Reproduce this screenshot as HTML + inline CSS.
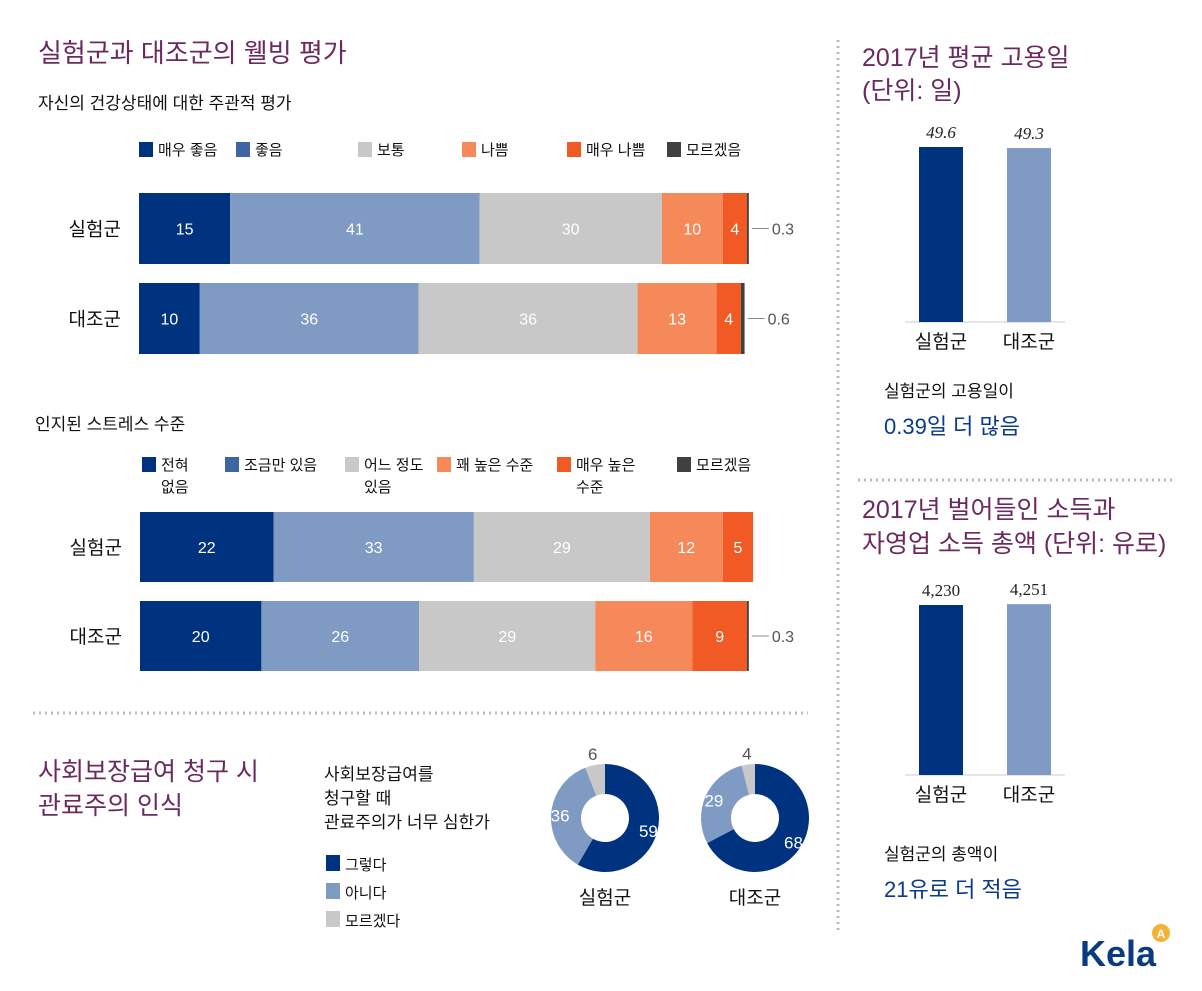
<!DOCTYPE html>
<html><head><meta charset="utf-8">
<style>
html,body{margin:0;padding:0;background:#fff;}
svg{display:block;font-family:"Liberation Sans","Noto Sans CJK KR",sans-serif;}
</style></head>
<body>
<svg id="c" width="1202" height="991" viewBox="0 0 1202 991" xmlns="http://www.w3.org/2000/svg">
<text x="38" y="62" font-size="26" fill="#6b2a5e">실험군과 대조군의 웰빙 평가</text>
<text x="38" y="109" font-size="17" fill="#111">자신의 건강상태에 대한 주관적 평가</text>
<text x="35" y="430" font-size="17" fill="#111">인지된 스트레스 수준</text>
<g id="g1"></g>
<g id="g2"></g>
<line x1="33" y1="713" x2="808" y2="713" stroke="#bbb" stroke-width="3" stroke-dasharray="2 4"/>
<line x1="838" y1="40" x2="838" y2="930" stroke="#bbb" stroke-width="3" stroke-dasharray="2 4"/>
<line x1="858" y1="480" x2="1176" y2="480" stroke="#bbb" stroke-width="3" stroke-dasharray="2 4"/>
<text x="38" y="780" font-size="25" fill="#6b2a5e">사회보장급여 청구 시</text>
<text x="38" y="814" font-size="25" fill="#6b2a5e">관료주의 인식</text>
<text x="324" y="780" font-size="17" fill="#111"><tspan x="324">사회보장급여를</tspan><tspan x="324" dy="24">청구할 때</tspan><tspan x="324" dy="24">관료주의가 너무 심한가</tspan></text>
<g id="dl"></g>
<g id="g3"></g>
<text x="862" y="66" font-size="25" fill="#6b2a5e">2017년 평균 고용일</text>
<text x="862" y="99" font-size="25" fill="#6b2a5e">(단위: 일)</text>
<g id="g4"></g>
<text x="884" y="397" font-size="17" fill="#111">실험군의 고용일이</text>
<text x="884" y="434" font-size="22" fill="#0a3a8c">0.39일 더 많음</text>
<text x="862" y="518" font-size="25" fill="#6b2a5e">2017년 벌어들인 소득과</text>
<text x="862" y="552" font-size="25" fill="#6b2a5e">자영업 소득 총액 (단위: 유로)</text>
<g id="g5"></g>
<text x="884" y="860" font-size="17" fill="#111">실험군의 총액이</text>
<text x="884" y="897" font-size="22" fill="#0a3a8c">21유로 더 적음</text>
<text x="1080" y="966" font-size="36" font-weight="bold" fill="#0a3a80">Kela</text>
<circle cx="1161" cy="933" r="9" fill="#f5b335"/>
<text x="1161" y="938" font-size="12" font-weight="bold" fill="#fff" text-anchor="middle">A</text>
</svg>
<script>
const NS="http://www.w3.org/2000/svg";
const groups=["실험군","대조군"];
const colors=["#00337f","#7f9bc3","#c8c8c8","#f5895a","#f15a24","#404040"];
const healthCats=["매우 좋음","좋음","보통","나쁨","매우 나쁨","모르겠음"];
const healthExp=[15,41,30,10,4,0.3];
const healthCtl=[10,36,36,13,4,0.6];
const stressCats=["전혀|없음","조금만 있음","어느 정도|있음","꽤 높은 수준","매우 높은|수준","모르겠음"];
const stressExp=[22,33,29,12,5,0];
const stressCtl=[20,26,29,16,9,0.3];
const donutCats=["그렇다","아니다","모르겠다"];
const donutExp=[59,36,6];
const donutCtl=[68,29,4];
const daysVals=[49.6,49.3];
const daysLabels=["49.6","49.3"];
const incomeVals=[4230,4251];
const incomeLabels=["4,230","4,251"];

function mk(tag,attrs,parent,text){const e=document.createElementNS(NS,tag);for(const k in attrs)e.setAttribute(k,attrs[k]);if(text!==undefined)e.textContent=text;parent.appendChild(e);return e;}

function stacked(gid,cats,rows,x0,unit,rowY,rowH,legendXs,legendY,legendSquareColors){
  const g=document.getElementById(gid);
  cats.forEach((c,i)=>{
    const r=mk("rect",{x:legendXs[i],y:legendY-13,width:14,height:15,fill:legendSquareColors[i]},g);
    
    
    const parts=c.split("|");
    parts.forEach((p,j)=>{
      const t=mk("text",{x:legendXs[i]+19,y:legendY+j*22,"font-size":15,fill:"#111"},g,p);
      
      
    });
  });
  rows.forEach((vals,ri)=>{
    const y=rowY[ri];
    const lab=mk("text",{x:x0-18,y:y+rowH/2+7,"font-size":19,fill:"#111","text-anchor":"end"},g,groups[ri]);
    
    
    let x=x0;
    vals.forEach((v,i)=>{
      const w=v*unit;
      if(v>0){
        const r=mk("rect",{x:x,y:y,width:w,height:rowH,fill:colors[i]},g);
        
        
        if(v>=1){
          const t=mk("text",{x:x+w/2,y:y+rowH/2+6,"font-size":16,fill:"#fff","text-anchor":"middle"},g,String(v));
          
          
        } else {
          const l=mk("line",{x1:x+w+3,y1:y+rowH/2,x2:x+w+20,y2:y+rowH/2,stroke:"#888","stroke-width":1},g);
          
          
          const t=mk("text",{x:x+w+23,y:y+rowH/2+6,"font-size":16,fill:"#555"},g,String(v));
          
          
        }
      }
      x+=w;
    });
  });
}
stacked("g1",healthCats,[healthExp,healthCtl],139,6.08,[193,283],71,[139,236,358,462,567,667],155,["#00337f","#3f66a3","#c8c8c8","#f5895a","#f15a24","#404040"]);
stacked("g2",stressCats,[stressExp,stressCtl],140,6.07,[512,601],70,[142,225,345,437,557,677],470,["#00337f","#3f66a3","#c8c8c8","#f5895a","#f15a24","#404040"]);

// donut legend
const dl=document.getElementById("dl");
donutCats.forEach((c,i)=>{
  const r=mk("rect",{x:326,y:855+i*28,width:14,height:16,fill:colors[i]},dl);
  
  
  const t=mk("text",{x:345,y:870+i*28,"font-size":15,fill:"#111"},dl,c);
  
  
});

function donut(vals,cx,cy,label){
  const g=document.getElementById("g3");
  const R=54,r=24,tot=vals.reduce((a,b)=>a+b,0);
  let a0=0;
  vals.forEach((v,i)=>{
    const a1=a0+v/tot*2*Math.PI;
    const p=(a,rad)=>[cx+rad*Math.sin(a),cy-rad*Math.cos(a)];
    const [x1,y1]=p(a0,R),[x2,y2]=p(a1,R),[x3,y3]=p(a1,r),[x4,y4]=p(a0,r);
    const lg=(a1-a0)>Math.PI?1:0;
    const path=mk("path",{d:`M${x1},${y1}A${R},${R} 0 ${lg} 1 ${x2},${y2}L${x3},${y3}A${r},${r} 0 ${lg} 0 ${x4},${y4}Z`,fill:colors[i]},g);
    
    
    const am=(a0+a1)/2;
    let tr=(R+r)/2+6, col="#fff";
    if(v<10){tr=R+12;col="#555";}
    const [tx,ty]=p(am,tr);
    const t=mk("text",{x:tx,y:ty+7,"font-size":17,fill:col,"text-anchor":"middle"},g,String(v));
    
    
    a0=a1;
  });
  const t=mk("text",{x:cx,y:cy+86,"font-size":19,fill:"#111","text-anchor":"middle"},g,label);
  
  
}
donut(donutExp,605,818,groups[0]);
donut(donutCtl,755,818,groups[1]);

function vbars(gid,vals,labels,base,scale,italic){
  const g=document.getElementById(gid);
  const xs=[919,1007];
  const ax=mk("line",{x1:905,y1:base,x2:1065,y2:base,stroke:"#ccc","stroke-width":1},g);
  
  
  vals.forEach((v,i)=>{
    const h=v*scale;
    const r=mk("rect",{x:xs[i],y:base-h,width:44,height:h,fill:colors[i]},g);
    
    
    const t=mk("text",{x:xs[i]+22,y:base-h-9,"font-size":17,fill:"#222","text-anchor":"middle","font-family":"Liberation Serif, serif","font-style":italic?"italic":"normal"},g,labels[i]);
    
    
    const l=mk("text",{x:xs[i]+22,y:base+26,"font-size":19,fill:"#111","text-anchor":"middle"},g,groups[i]);
    
    
  });
}
vbars("g4",daysVals,daysLabels,322,175/49.6,true);
vbars("g5",incomeVals,incomeLabels,775,170/4230,false);
</script>
</body></html>
